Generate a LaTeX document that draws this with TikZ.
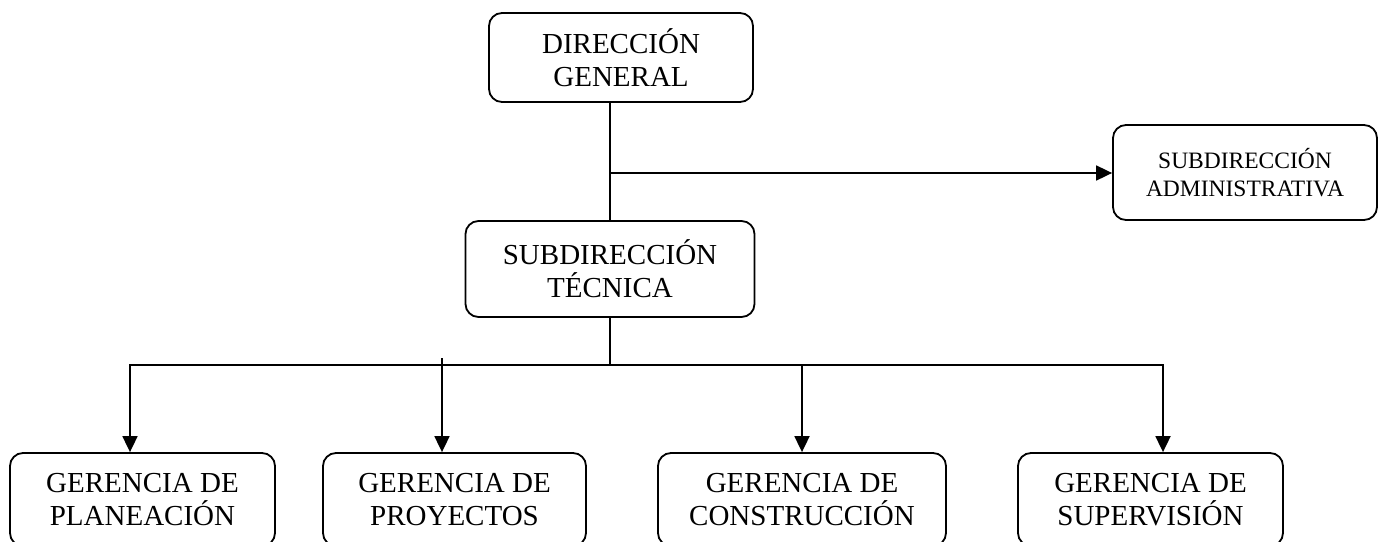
\documentclass[tikz,border=0pt]{standalone}
\usepackage{fontspec}
\setmainfont{Liberation Serif}
\usetikzlibrary{arrows.meta}
\tikzset{
  box/.style={draw, line width=1.8pt, rounded corners=13pt, inner sep=0pt, align=center,
    font=\fontsize{29}{33}\selectfont},
  smallbox/.style={box, font=\fontsize{23.5}{28}\selectfont},
  conn/.style={line width=1.8pt},
  arr/.style={conn, -{Triangle[length=16pt,width=15pt]}},
  arr2/.style={conn, {Triangle[length=16pt,width=15pt]}-{Triangle[length=16pt,width=15pt]}}
}
\begin{document}
\begin{tikzpicture}[x=1pt,y=-1pt]
\useasboundingbox (0,0) rectangle (1384,541);
\clip (0,0) rectangle (1384,541);
\fill[white] (0,0) rectangle (1384,541);
% boxes
\node[box, minimum width=264pt, minimum height=89pt] (DG) at (621,57.5) {DIRECCIÓN\\GENERAL};
\node[smallbox, minimum width=264pt, minimum height=95pt] (SA) at (1245,172.5) {SUBDIRECCIÓN\\ADMINISTRATIVA};
\node[box, minimum width=289pt, minimum height=96pt] (ST) at (610,269) {SUBDIRECCIÓN\\TÉCNICA};
\node[box, minimum width=265pt, minimum height=93pt] (PL) at (142.5,499.5) {GERENCIA DE\\PLANEACIÓN};
\node[box, minimum width=263pt, minimum height=93pt] (PR) at (454.5,499.5) {GERENCIA DE\\PROYECTOS};
\node[box, minimum width=288pt, minimum height=93pt] (CO) at (802,499.5) {GERENCIA DE\\CONSTRUCCIÓN};
\node[box, minimum width=265pt, minimum height=93pt] (SU) at (1150.5,499.5) {GERENCIA DE\\SUPERVISIÓN};
% coordinates
\coordinate (j1) at (610,173);
\coordinate (bl) at (130,365);
\coordinate (br) at (1163,365);
\coordinate (pr0) at (442,358);
\coordinate (co0) at (802,365);
% connectors
\draw[conn] (DG.south -| ST.north) -- (ST.north);
\draw[arr] (j1) -- (SA.west |- j1);
\draw[conn] (ST.south) -- (ST.south |- bl);
\draw[arr2] (bl |- PL.north) -- (bl) -- (br) -- (br |- SU.north);
\draw[arr] (pr0) -- (pr0 |- PR.north);
\draw[arr] (co0) -- (CO.north);
\end{tikzpicture}
\end{document}
